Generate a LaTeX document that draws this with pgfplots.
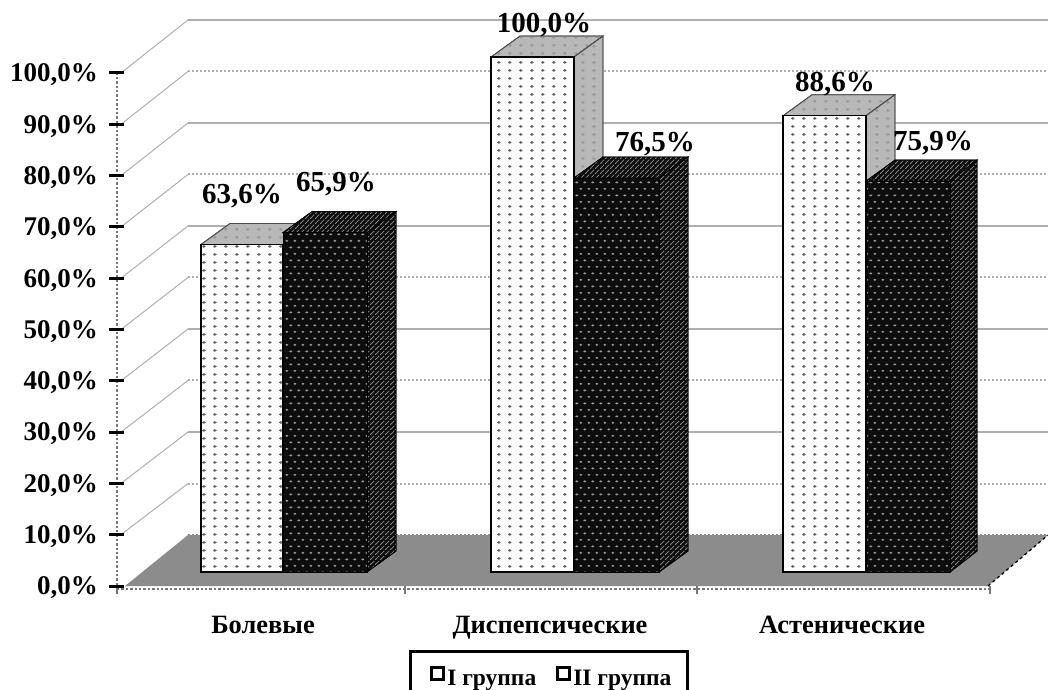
\documentclass[border=0pt]{standalone}
\usepackage{fontspec}
\setmainfont{Liberation Serif}
\usepackage{pgfplots}
\pgfplotsset{compat=1.18}
\usetikzlibrary{patterns}

\definecolor{floorgray}{HTML}{8C8C8C}
\definecolor{wallgray}{HTML}{AFAFAF}
\definecolor{axisgray}{HTML}{777777}
\definecolor{topgray}{HTML}{B8B8B8}

% Sparse dots on the light bars
\pgfdeclarepatternformonly{lightdots}{\pgfpointorigin}{\pgfqpoint{10.5pt}{8pt}}{\pgfqpoint{10.5pt}{8pt}}{
  \pgfpathellipse{\pgfqpoint{5pt}{4pt}}{\pgfqpoint{2pt}{0pt}}{\pgfqpoint{0pt}{1.6pt}}
  \pgfusepath{fill}}
% Staggered dots on the dark bars
\pgfdeclarepatternformonly{darkdots}{\pgfpointorigin}{\pgfqpoint{8.4pt}{13.4pt}}{\pgfqpoint{8.4pt}{13.4pt}}{
  \pgfpathellipse{\pgfqpoint{2pt}{3.3pt}}{\pgfqpoint{1.7pt}{0pt}}{\pgfqpoint{0pt}{1.1pt}}
  \pgfpathellipse{\pgfqpoint{6.2pt}{10pt}}{\pgfqpoint{1.7pt}{0pt}}{\pgfqpoint{0pt}{1.1pt}}
  \pgfusepath{fill}}
% Fine hatching on the shaded faces of the dark bars
\pgfdeclarepatternformonly{darkhatch}{\pgfpointorigin}{\pgfqpoint{5pt}{5pt}}{\pgfqpoint{5pt}{5pt}}{
  \pgfsetlinewidth{0.9pt}
  \pgfpathmoveto{\pgfqpoint{0pt}{0pt}}\pgfpathlineto{\pgfqpoint{5pt}{5pt}}
  \pgfusepath{stroke}}

\tikzset{
  lightfront/.style={draw=black, line width=1.2pt, fill=white,
    postaction={pattern=lightdots, pattern color=black!60}},
  lightface/.style={draw=black!70, line width=0.8pt, fill=topgray,
    postaction={pattern=lightdots, pattern color=black!40}},
  darkfront/.style={draw=black, line width=1pt, fill=black!95,
    postaction={pattern=darkdots, pattern color=black!40}},
  darkface/.style={draw=black, line width=0.8pt, fill=black!95,
    postaction={pattern=darkhatch, pattern color=black!45}},
  vallabel/.style={font=\fontsize{29}{31}\selectfont\bfseries, inner sep=0pt},
}

\begin{document}
\begin{tikzpicture}[x=1pt,y=1pt]
\useasboundingbox (-117pt,-103pt) rectangle (931pt,586pt);

% Walls, floor and value axis
\begin{axis}[
  at={(0pt,0pt)}, anchor=south west, scale only axis, width=931pt, height=586pt,
  xmin=117, xmax=1048, ymin=0, ymax=114.23, clip=false,
  axis on top,
  axis x line*=bottom, axis y line*=left,
  axis line style={draw=none},
  ytick={0,10,20,30,40,50,60,70,80,90,100},
  yticklabels={{0,0\%},{10,0\%},{20,0\%},{30,0\%},{40,0\%},{50,0\%},{60,0\%},{70,0\%},{80,0\%},{90,0\%},{100,0\%}},
  ytick align=center, major tick length=15pt,
  major y tick style={draw=black, line width=3pt},
  yticklabel style={font=\fontsize{27}{29}\selectfont\bfseries, xshift=-8pt, yshift=-2pt},
  xtick={263,550,842},
  xticklabels={Болевые,Диспепсические,Астенические},
  major x tick style={draw=none},
  minor xtick={117,405,697,990},
  xtick align=outside, minor tick length=8pt,
  minor x tick style={draw=axisgray, line width=2pt},
  xticklabel style={font=\fontsize{26.4}{28}\selectfont\bfseries, yshift=-12pt},
]
% floor of the chart space
\addplot[fill=floorgray, draw=none] coordinates {(125,0) (188,9.94) (1048,9.94) (988,0)} -- cycle;
\addplot[black, dashed, line width=1.3pt] coordinates {(988,0) (1048,9.94)};
% back wall grid, running from the value axis up to the wall and across it
\addplot[wallgray, line width=1.8pt] coordinates {(188,110.34) (1048,110.34)};
\addplot[wallgray, line width=2pt, dotted] coordinates {(188,100.30) (1048,100.30)};
\addplot[wallgray, line width=1.8pt] coordinates {(188,90.26) (1048,90.26)};
\addplot[wallgray, line width=2pt, dotted] coordinates {(188,80.22) (1048,80.22)};
\addplot[wallgray, line width=1.8pt] coordinates {(188,70.18) (1048,70.18)};
\addplot[wallgray, line width=2pt, dotted] coordinates {(188,60.14) (1048,60.14)};
\addplot[wallgray, line width=1.8pt] coordinates {(188,50.10) (1048,50.10)};
\addplot[wallgray, line width=2pt, dotted] coordinates {(188,40.06) (1048,40.06)};
\addplot[wallgray, line width=1.8pt] coordinates {(188,30.02) (1048,30.02)};
\addplot[wallgray, line width=2pt, dotted] coordinates {(188,19.98) (1048,19.98)};
\addplot[floorgray, line width=2pt, dotted] coordinates {(188,9.94) (1048,9.94)};
% side wall grid
\addplot[wallgray, line width=1pt] coordinates {(121,100) (188,110.34)};
\addplot[wallgray, line width=1pt] coordinates {(121,90) (188,100.30)};
\addplot[wallgray, line width=1pt] coordinates {(121,80) (188,90.26)};
\addplot[wallgray, line width=1pt] coordinates {(121,70) (188,80.22)};
\addplot[wallgray, line width=1pt] coordinates {(121,60) (188,70.18)};
\addplot[wallgray, line width=1pt] coordinates {(121,50) (188,60.14)};
\addplot[wallgray, line width=1pt] coordinates {(121,40) (188,50.10)};
\addplot[wallgray, line width=1pt] coordinates {(121,30) (188,40.06)};
\addplot[wallgray, line width=1pt] coordinates {(121,20) (188,30.02)};
\addplot[wallgray, line width=1pt] coordinates {(121,10) (188,19.98)};
% axis lines
\addplot[axisgray, line width=2.4pt, dotted] coordinates {(117,-1.56) (117,100)};
\addplot[axisgray, line width=2.4pt, dotted] coordinates {(117,-0.58) (990,-0.58)};
\end{axis}

% Bars: same width and height as above, baseline on the bars' front plane
\begin{axis}[
  at={(0pt,0pt)}, anchor=south west, scale only axis, width=931pt, height=586pt,
  xmin=117, xmax=1048, ymin=-2.718, ymax=111.07, clip=false,
  hide axis,
  legend columns=2,
  legend style={at={(0.3136,-0.1092)}, anchor=north west, draw=black, line width=2.6pt,
    font=\fontsize{23.5}{25}\selectfont\bfseries, inner xsep=14pt, inner ysep=15pt,
    nodes={inner xsep=2pt},
    /tikz/every even column/.append style={column sep=12pt}},
  legend image code/.code={
    \path[draw=none] (0pt,-1pt) -- (21pt,-1pt);
    \draw[black, line width=2.6pt, fill=white] (7pt,-1pt) rectangle (19pt,11pt);},
]
% Болевые
\addplot[lightface, forget plot] coordinates {(201,63.6) (230,67.68) (312,67.68) (283,63.6)} -- cycle;
\addplot[lightfront, forget plot] coordinates {(201,0) (283,0) (283,63.6) (201,63.6)} -- cycle;
\addplot[darkface, forget plot] coordinates {(283,65.9) (312,69.98) (396,69.98) (367,65.9)} -- cycle;
\addplot[darkface, forget plot] coordinates {(367,0) (396,4.08) (396,69.98) (367,65.9)} -- cycle;
\addplot[darkfront, forget plot] coordinates {(283,0) (367,0) (367,65.9) (283,65.9)} -- cycle;
% Диспепсические
\addplot[lightface, forget plot] coordinates {(491,100) (520,104.08) (603,104.08) (574,100)} -- cycle;
\addplot[lightface, forget plot] coordinates {(574,0) (603,4.08) (603,104.08) (574,100)} -- cycle;
\addplot[lightfront, forget plot] coordinates {(491,0) (574,0) (574,100) (491,100)} -- cycle;
\addplot[darkface, forget plot] coordinates {(574,76.5) (603,80.58) (688,80.58) (659,76.5)} -- cycle;
\addplot[darkface, forget plot] coordinates {(659,0) (688,4.08) (688,80.58) (659,76.5)} -- cycle;
\addplot[darkfront, forget plot] coordinates {(574,0) (659,0) (659,76.5) (574,76.5)} -- cycle;
% Астенические
\addplot[lightface, forget plot] coordinates {(783,88.6) (812,92.68) (895,92.68) (866,88.6)} -- cycle;
\addplot[lightface, forget plot] coordinates {(866,0) (895,4.08) (895,92.68) (866,88.6)} -- cycle;
\addplot[lightfront, forget plot] coordinates {(783,0) (866,0) (866,88.6) (783,88.6)} -- cycle;
\addplot[darkface, forget plot] coordinates {(866,75.9) (895,79.98) (977,79.98) (950,75.9)} -- cycle;
\addplot[darkface, forget plot] coordinates {(950,0) (977,4.08) (977,79.98) (950,75.9)} -- cycle;
\addplot[darkfront, forget plot] coordinates {(866,0) (950,0) (950,75.9) (866,75.9)} -- cycle;

% value labels
\node[vallabel] at (axis cs:242,73) {63,6\%};
\node[vallabel] at (axis cs:336,75.4) {65,9\%};
\node[vallabel] at (axis cs:544,106.2) {100,0\%};
\node[vallabel] at (axis cs:655,83) {76,5\%};
\node[vallabel] at (axis cs:835,94.7) {88,6\%};
\node[vallabel] at (axis cs:933,83.2) {75,9\%};

\addlegendimage{}
\addlegendentry{I группа}
\addlegendimage{}
\addlegendentry{II группа}
\end{axis}
\end{tikzpicture}
\end{document}
